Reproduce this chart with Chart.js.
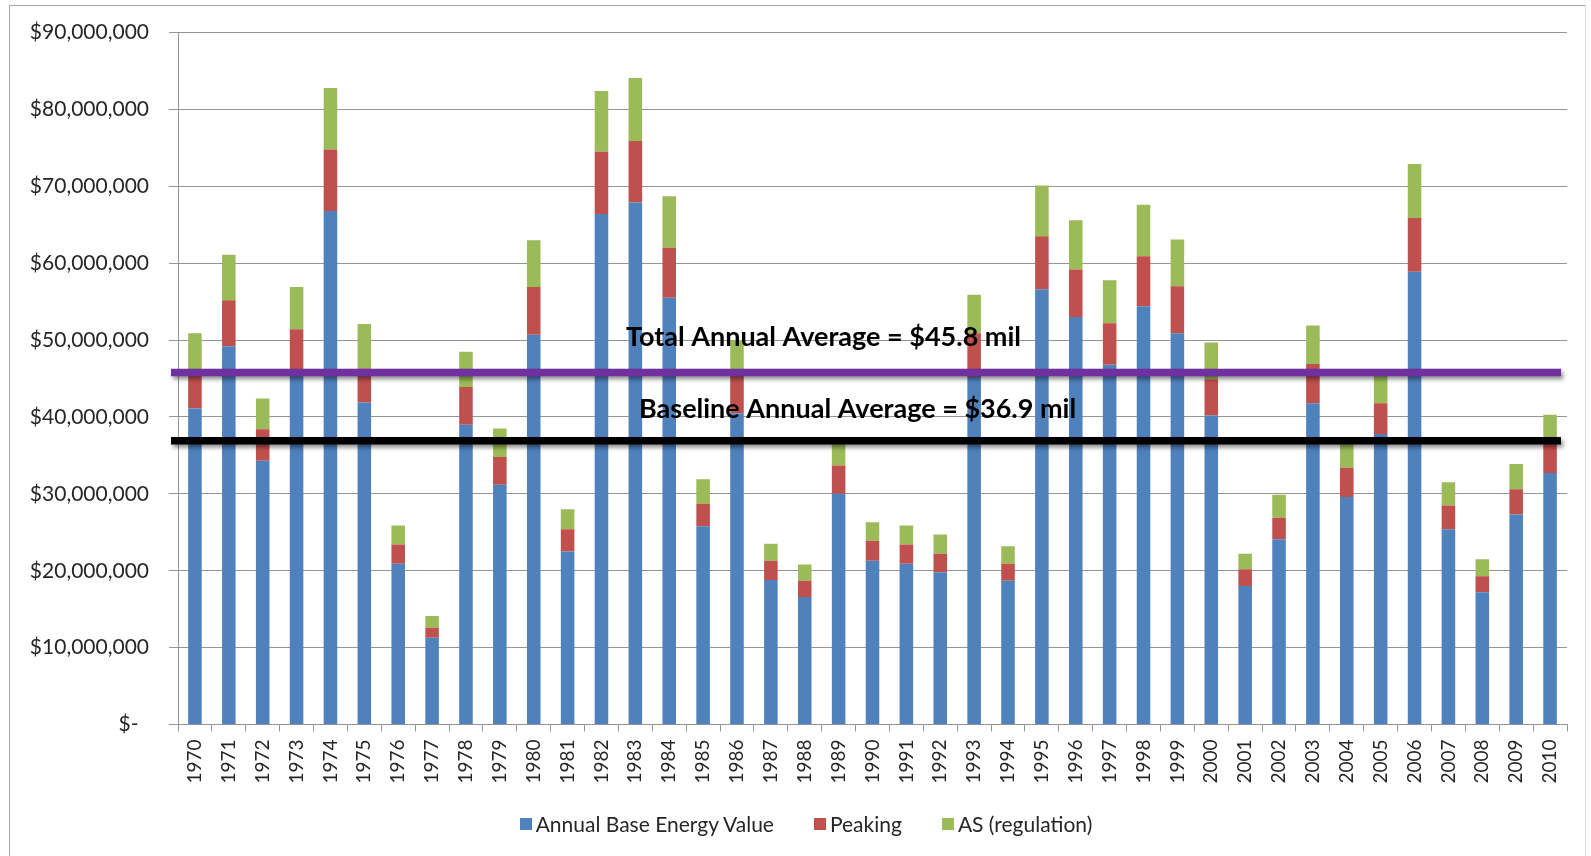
<!DOCTYPE html>
<html>
<head>
<meta charset="utf-8">
<script src="https://cdn.jsdelivr.net/npm/chart.js@4.4.1/dist/chart.umd.min.js"></script>
<style>
  html, body { margin: 0; padding: 0; background: #fff; }
  #wrap { position: relative; width: 1591px; height: 856px; overflow: hidden; }
  #frame { position: absolute; left: 9px; top: 5px; width: 1575px; height: 900px;
           border: 1px solid #a8a8a8; border-right-color: #dedede; }
  #chart { position: absolute; left: 0; top: 0; }
  #legend { position: absolute; left: 0; top: 811px; width: 1612px; display: flex;
            justify-content: center; font: 21px Lato, sans-serif; color: #262626; }
  #legend span.item { display: flex; align-items: center; margin: 0 20px; }
  #legend span.box { width: 12px; height: 12px; margin-right: 4px; display: inline-block; }
</style>
</head>
<body>
<div id="wrap">
  <div id="frame"></div>
  <canvas id="chart" width="1591" height="856"></canvas>
  <div id="legend"></div>
</div>
<script>
// Years on the x axis
var years = [];
for (var yr = 1970; yr <= 2010; yr++) years.push(String(yr));

// Values in millions of dollars
var baseEnergy = [
  41.1, 49.2, 34.3, 46.1, 66.8, 41.9, 20.9, 11.3, 39.0, 31.2,
  50.7, 22.5, 66.4, 67.9, 55.5, 25.8, 40.5, 18.8, 16.6, 30.0,
  21.3, 20.9, 19.8, 45.2, 18.7, 56.6, 53.0, 46.8, 54.4, 50.9,
  40.2, 18.0, 24.1, 41.8, 29.6, 37.8, 58.9, 25.4, 17.2, 27.3,
  32.7
];
var peaking = [
  5.1, 6.0, 4.1, 5.3, 8.0, 4.4, 2.5, 1.3, 4.9, 3.6,
  6.2, 2.9, 8.1, 8.0, 6.5, 2.9, 5.1, 2.5, 2.1, 3.7,
  2.6, 2.5, 2.4, 5.7, 2.2, 6.9, 6.2, 5.4, 6.5, 6.1,
  4.7, 2.2, 2.8, 5.1, 3.8, 4.0, 7.0, 3.1, 2.1, 3.3,
  3.8
];
var regulation = [
  4.7, 5.9, 4.0, 5.5, 8.0, 5.8, 2.5, 1.5, 4.6, 3.7,
  6.1, 2.6, 7.9, 8.2, 6.7, 3.2, 4.4, 2.2, 2.1, 3.6,
  2.4, 2.5, 2.5, 5.0, 2.3, 6.6, 6.4, 5.6, 6.7, 6.1,
  4.8, 2.0, 3.0, 5.0, 3.5, 4.4, 7.0, 3.0, 2.2, 3.3,
  3.8
];
var seriesNames = ["Annual Base Energy Value", "Peaking", "AS (regulation)"];
var seriesColors = ["#4f81bd", "#c0504d", "#9bbb59"];

// Average lines (millions)
var averageNames = ["Total Annual Average", "Baseline Annual Average"];
var averageValues = [45.8, 36.9];
var averageColors = ["#7030a0", "#000000"];

function toDollars(arr) {
  return arr.map(function (v) { return v * 1e6; });
}

var FONT = "Lato, 'DejaVu Sans', sans-serif";
var TEXT = "#262626";
var GRID = "#959595";

// horizontal average lines with their captions
var averageLines = {
  id: "averageLines",
  afterDatasetsDraw: function (chart) {
    var ctx = chart.ctx;
    var area = chart.chartArea;
    var yScale = chart.scales.y;
    var captionLeft = [448, 461];
    var captionRise = [35, 32];
    averageValues.forEach(function (v, i) {
      var py = yScale.getPixelForValue(v * 1e6);
      ctx.save();
      ctx.shadowColor = "rgba(0,0,0,0.45)";
      ctx.shadowBlur = 4;
      ctx.shadowOffsetX = 2;
      ctx.shadowOffsetY = 3;
      ctx.strokeStyle = averageColors[i];
      ctx.lineWidth = 7.5;
      ctx.beginPath();
      ctx.moveTo(area.left - 7, py);
      ctx.lineTo(area.right - 6, py);
      ctx.stroke();
      ctx.restore();
    });
    averageValues.forEach(function (v, i) {
      var py = yScale.getPixelForValue(v * 1e6);
      ctx.save();
      ctx.font = "bold 27px " + FONT;
      ctx.fillStyle = "#000";
      ctx.textAlign = "left";
      ctx.textBaseline = "middle";
      ctx.fillText(averageNames[i] + " = $" + v.toFixed(1) + " mil",
        area.left + captionLeft[i], py - captionRise[i]);
      ctx.restore();
    });
  }
};

var datasets = [baseEnergy, peaking, regulation].map(function (arr, i) {
  return {
    label: seriesNames[i],
    data: toDollars(arr),
    backgroundColor: seriesColors[i],
    borderWidth: 0,
    barPercentage: 0.4,
    categoryPercentage: 1.0
  };
});

var chart = new Chart(document.getElementById("chart").getContext("2d"), {
  type: "bar",
  data: { labels: years, datasets: datasets },
  options: {
    responsive: false,
    animation: false,
    devicePixelRatio: 1,
    layout: { padding: { left: 0, right: 24, top: 31, bottom: 0 } },
    plugins: {
      legend: { display: false },
      tooltip: { enabled: false }
    },
    scales: {
      x: {
        stacked: true,
        grid: { offset: true, drawOnChartArea: false, drawTicks: true, tickLength: 7, color: GRID },
        border: { color: GRID },
        ticks: {
          autoSkip: false, minRotation: 90, maxRotation: 90, padding: 8,
          color: TEXT, font: { family: FONT, size: 19 }
        },
        afterFit: function (s) { s.height = 131.5; }
      },
      y: {
        stacked: true,
        min: 0,
        max: 90e6,
        grid: { color: GRID, tickLength: 9 },
        border: { color: GRID },
        ticks: {
          stepSize: 10e6,
          padding: 20,
          color: TEXT,
          font: { family: FONT, size: 21 },
          callback: function (v) {
            return v === 0 ? "$-\u2002" : "$" + v.toLocaleString("en-US");
          }
        },
        afterFit: function (s) { s.width = 178; }
      }
    }
  },
  plugins: [averageLines]
});

// legend built from the datasets
var legend = document.getElementById("legend");
chart.data.datasets.forEach(function (ds) {
  var item = document.createElement("span");
  item.className = "item";
  var box = document.createElement("span");
  box.className = "box";
  box.style.background = ds.backgroundColor;
  item.appendChild(box);
  item.appendChild(document.createTextNode(ds.label));
  legend.appendChild(item);
});
</script>
</body>
</html>
